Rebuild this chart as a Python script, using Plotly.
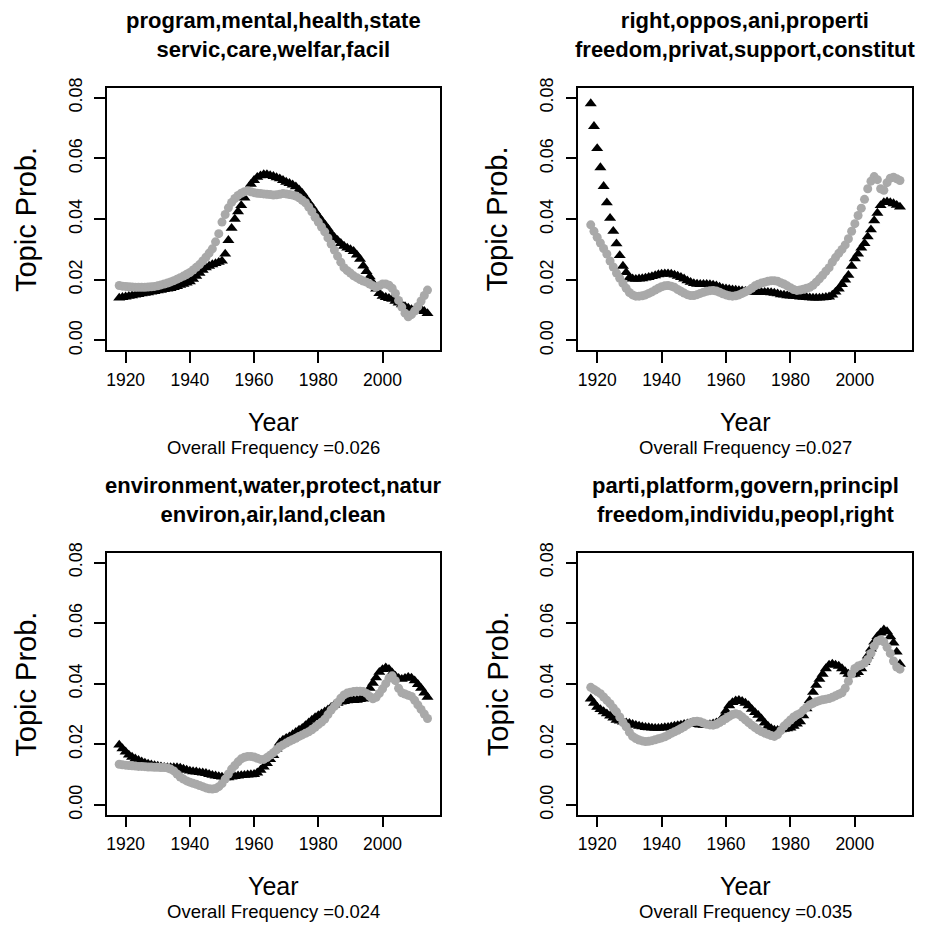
import plotly.graph_objects as go

years = list(range(1918, 2015))

titles = [
    "program,mental,health,state<br>servic,care,welfar,facil",
    "right,oppos,ani,properti<br>freedom,privat,support,constitut",
    "environment,water,protect,natur<br>environ,air,land,clean",
    "parti,platform,govern,principl<br>freedom,individu,peopl,right",
]
overall_freq = ["0.026", "0.027", "0.024", "0.035"]
x_ticks = [1920, 1940, 1960, 1980, 2000]
y_ticks = [0.00, 0.02, 0.04, 0.06, 0.08]

tri_1 = [0.0140, 0.0142, 0.0144, 0.0146, 0.0148, 0.0150, 0.0152, 0.0154, 0.0156, 0.0158,
         0.0160, 0.0162, 0.0164, 0.0166, 0.0168, 0.0170, 0.0172, 0.0175, 0.0178, 0.0182,
         0.0186, 0.0190, 0.0194, 0.0202, 0.0212, 0.0222, 0.0232, 0.0240, 0.0245, 0.0250,
         0.0254, 0.0258, 0.0262, 0.0285, 0.0330, 0.0370, 0.0400, 0.0425, 0.0445, 0.0470,
         0.0495, 0.0515, 0.0528, 0.0538, 0.0543, 0.0547, 0.0547, 0.0544, 0.0541, 0.0537,
         0.0533, 0.0528, 0.0522, 0.0518, 0.0513, 0.0507, 0.0497, 0.0485, 0.0470, 0.0455,
         0.0440, 0.0425, 0.0410, 0.0395, 0.0382, 0.0368, 0.0352, 0.0340, 0.0330, 0.0320,
         0.0311, 0.0305, 0.0300, 0.0294, 0.0282, 0.0268, 0.0246, 0.0228, 0.0210, 0.0190,
         0.0170, 0.0155, 0.0146, 0.0142, 0.0139, 0.0136, 0.0130, 0.0124, 0.0118, 0.0112,
         0.0107, 0.0102, 0.0100, 0.0104, 0.0103, 0.0096, 0.0089]
dot_1 = [0.0181, 0.0179, 0.0178, 0.0177, 0.0176, 0.0175, 0.0175, 0.0175, 0.0175, 0.0176,
         0.0177, 0.0178, 0.0180, 0.0183, 0.0186, 0.0189, 0.0193, 0.0197, 0.0202, 0.0207,
         0.0212, 0.0218, 0.0224, 0.0232, 0.0241, 0.0250, 0.0262, 0.0274, 0.0288, 0.0302,
         0.0325, 0.0352, 0.0390, 0.0415, 0.0437, 0.0455, 0.0468, 0.0478, 0.0485, 0.0490,
         0.0493, 0.0490, 0.0487, 0.0485, 0.0484, 0.0483, 0.0482, 0.0481, 0.0479, 0.0480,
         0.0482, 0.0484, 0.0483, 0.0481, 0.0479, 0.0476, 0.0470, 0.0462, 0.0454, 0.0440,
         0.0424, 0.0406, 0.0390, 0.0374, 0.0358, 0.0338, 0.0318, 0.0298, 0.0278, 0.0258,
         0.0240, 0.0230, 0.0222, 0.0213, 0.0207, 0.0201, 0.0196, 0.0192, 0.0186, 0.0180,
         0.0176, 0.0180, 0.0186, 0.0186, 0.0182, 0.0172, 0.0155, 0.0132, 0.0110, 0.0090,
         0.0078, 0.0085, 0.0097, 0.0112, 0.0130, 0.0148, 0.0166]

tri_2 = [0.0781, 0.0706, 0.0633, 0.0570, 0.0508, 0.0454, 0.0403, 0.0360, 0.0319, 0.0280,
         0.0245, 0.0224, 0.0207, 0.0203, 0.0202, 0.0203, 0.0204, 0.0206, 0.0208, 0.0211,
         0.0214, 0.0217, 0.0219, 0.0220, 0.0220, 0.0219, 0.0216, 0.0212, 0.0208, 0.0203,
         0.0197, 0.0192, 0.0188, 0.0186, 0.0185, 0.0185, 0.0185, 0.0184, 0.0183, 0.0180,
         0.0176, 0.0172, 0.0170, 0.0169, 0.0167, 0.0166, 0.0165, 0.0164, 0.0162, 0.0161,
         0.0160, 0.0159, 0.0159, 0.0159, 0.0159, 0.0159, 0.0158, 0.0156, 0.0154, 0.0151,
         0.0150, 0.0148, 0.0147, 0.0146, 0.0145, 0.0144, 0.0143, 0.0142, 0.0141, 0.0140,
         0.0140, 0.0140, 0.0141, 0.0142, 0.0144, 0.0150, 0.0160, 0.0170, 0.0185, 0.0200,
         0.0215, 0.0245, 0.0270, 0.0285, 0.0305, 0.0320, 0.0342, 0.0365, 0.0395, 0.0420,
         0.0445, 0.0455, 0.0457, 0.0455, 0.0451, 0.0446, 0.0440]
dot_2 = [0.0381, 0.0360, 0.0340, 0.0321, 0.0303, 0.0285, 0.0262, 0.0242, 0.0222, 0.0205,
         0.0188, 0.0172, 0.0158, 0.0150, 0.0146, 0.0146, 0.0147, 0.0150, 0.0155, 0.0160,
         0.0166, 0.0172, 0.0177, 0.0180, 0.0181, 0.0179, 0.0175, 0.0168, 0.0162, 0.0156,
         0.0151, 0.0148, 0.0148, 0.0151, 0.0155, 0.0159, 0.0162, 0.0164, 0.0165, 0.0163,
         0.0159, 0.0154, 0.0150, 0.0147, 0.0146, 0.0147, 0.0150, 0.0155, 0.0160, 0.0165,
         0.0172, 0.0180, 0.0185, 0.0189, 0.0192, 0.0195, 0.0197, 0.0197, 0.0195, 0.0190,
         0.0186, 0.0180, 0.0174, 0.0168, 0.0165, 0.0166, 0.0169, 0.0172, 0.0175, 0.0182,
         0.0192, 0.0203, 0.0215, 0.0228, 0.0240, 0.0258, 0.0273, 0.0287, 0.0300, 0.0315,
         0.0335, 0.0360, 0.0385, 0.0412, 0.0436, 0.0465, 0.0500, 0.0525, 0.0540, 0.0530,
         0.0500, 0.0495, 0.0520, 0.0535, 0.0538, 0.0533, 0.0527]

tri_3 = [0.0198, 0.0186, 0.0175, 0.0165, 0.0158, 0.0152, 0.0147, 0.0142, 0.0138, 0.0135,
         0.0132, 0.0130, 0.0128, 0.0126, 0.0124, 0.0123, 0.0123, 0.0123, 0.0123, 0.0122,
         0.0118, 0.0115, 0.0112, 0.0110, 0.0109, 0.0107, 0.0106, 0.0104, 0.0101, 0.0098,
         0.0096, 0.0094, 0.0092, 0.0090, 0.0090, 0.0092, 0.0094, 0.0096, 0.0097, 0.0098,
         0.0099, 0.0100, 0.0101, 0.0106, 0.0115, 0.0125, 0.0137, 0.0150, 0.0163, 0.0185,
         0.0205, 0.0214, 0.0220, 0.0225, 0.0232, 0.0240, 0.0247, 0.0253, 0.0262, 0.0271,
         0.0280, 0.0288, 0.0295, 0.0301, 0.0307, 0.0314, 0.0322, 0.0330, 0.0336, 0.0340,
         0.0342, 0.0344, 0.0345, 0.0345, 0.0346, 0.0348, 0.0350, 0.0365, 0.0385, 0.0402,
         0.0420, 0.0438, 0.0447, 0.0453, 0.0448, 0.0436, 0.0425, 0.0418, 0.0415, 0.0418,
         0.0421, 0.0419, 0.0410, 0.0398, 0.0385, 0.0370, 0.0356]
dot_3 = [0.0134, 0.0132, 0.0131, 0.0130, 0.0129, 0.0128, 0.0127, 0.0127, 0.0126, 0.0125,
         0.0125, 0.0124, 0.0124, 0.0123, 0.0123, 0.0122, 0.0118, 0.0112, 0.0102, 0.0092,
         0.0085, 0.0079, 0.0075, 0.0071, 0.0068, 0.0064, 0.0060, 0.0056, 0.0053, 0.0052,
         0.0054, 0.0060, 0.0070, 0.0085, 0.0102, 0.0118, 0.0130, 0.0142, 0.0152, 0.0157,
         0.0160, 0.0160, 0.0158, 0.0154, 0.0150, 0.0150, 0.0156, 0.0164, 0.0172, 0.0182,
         0.0192, 0.0198, 0.0204, 0.0210, 0.0215, 0.0220, 0.0226, 0.0231, 0.0236, 0.0241,
         0.0248, 0.0256, 0.0265, 0.0273, 0.0283, 0.0298, 0.0313, 0.0325, 0.0338, 0.0352,
         0.0363, 0.0369, 0.0372, 0.0374, 0.0375, 0.0375, 0.0374, 0.0368, 0.0358, 0.0350,
         0.0355, 0.0368, 0.0383, 0.0400, 0.0418, 0.0426, 0.0410, 0.0385, 0.0370, 0.0366,
         0.0362, 0.0358, 0.0345, 0.0330, 0.0315, 0.0300, 0.0285]

tri_4 = [0.0350, 0.0336, 0.0323, 0.0315, 0.0308, 0.0301, 0.0294, 0.0287, 0.0280, 0.0277,
         0.0274, 0.0271, 0.0269, 0.0266, 0.0263, 0.0260, 0.0258, 0.0256, 0.0255, 0.0254,
         0.0253, 0.0253, 0.0254, 0.0255, 0.0256, 0.0258, 0.0260, 0.0262, 0.0264, 0.0266,
         0.0268, 0.0269, 0.0268, 0.0266, 0.0264, 0.0263, 0.0263, 0.0265, 0.0268, 0.0271,
         0.0275, 0.0290, 0.0310, 0.0328, 0.0338, 0.0344, 0.0345, 0.0342, 0.0336, 0.0328,
         0.0316, 0.0305, 0.0296, 0.0284, 0.0271, 0.0260, 0.0252, 0.0247, 0.0246, 0.0248,
         0.0250, 0.0252, 0.0254, 0.0260, 0.0267, 0.0275, 0.0295, 0.0318, 0.0345, 0.0372,
         0.0395, 0.0415, 0.0432, 0.0450, 0.0462, 0.0465, 0.0462, 0.0458, 0.0450, 0.0440,
         0.0432, 0.0430, 0.0432, 0.0437, 0.0450, 0.0470, 0.0492, 0.0515, 0.0538, 0.0556,
         0.0568, 0.0578, 0.0572, 0.0555, 0.0535, 0.0505, 0.0465]
dot_4 = [0.0388, 0.0381, 0.0374, 0.0367, 0.0356, 0.0345, 0.0334, 0.0320, 0.0307, 0.0290,
         0.0272, 0.0258, 0.0240, 0.0226, 0.0219, 0.0214, 0.0211, 0.0209, 0.0210, 0.0212,
         0.0215, 0.0218, 0.0221, 0.0225, 0.0230, 0.0236, 0.0241, 0.0246, 0.0252, 0.0258,
         0.0265, 0.0271, 0.0275, 0.0276, 0.0274, 0.0270, 0.0266, 0.0264, 0.0263, 0.0266,
         0.0272, 0.0279, 0.0285, 0.0292, 0.0298, 0.0301, 0.0298, 0.0290, 0.0281, 0.0272,
         0.0263, 0.0255, 0.0248, 0.0242, 0.0237, 0.0233, 0.0229, 0.0226, 0.0232, 0.0245,
         0.0260, 0.0270, 0.0280, 0.0290, 0.0297, 0.0302, 0.0312, 0.0322, 0.0330, 0.0335,
         0.0340, 0.0344, 0.0347, 0.0349, 0.0351, 0.0355, 0.0360, 0.0365, 0.0370, 0.0385,
         0.0408, 0.0432, 0.0450, 0.0458, 0.0462, 0.0468, 0.0480, 0.0500, 0.0524, 0.0540,
         0.0545, 0.0538, 0.0520, 0.0500, 0.0475, 0.0455, 0.0448]

triangles = [tri_1, tri_2, tri_3, tri_4]
dots = [dot_1, dot_2, dot_3, dot_4]

W, H = 925, 933
# plot boxes in pixels: (left, right, top, bottom)
boxes = [(106, 439.3, 79.3, 345.7), (578, 912.3, 79.3, 345.7),
         (106, 439.3, 551.7, 817.7), (578, 912.3, 551.7, 817.7)]

FONT = "Liberation Sans, Arial, Helvetica, sans-serif"
GRAY = "#A9A9A9"

fig = go.Figure()
annotations = []
layout = dict(
    width=W, height=H, margin=dict(l=0, r=0, t=0, b=0),
    paper_bgcolor="white", plot_bgcolor="white", showlegend=False,
    font=dict(family=FONT, color="black"),
)

xmin, xmax = min(years), max(years)
xpad = (xmax - xmin) * 0.04
yr = (0.0, 0.08)
ypad = (yr[1] - yr[0]) * 0.04

for i in range(4):
    n = "" if i == 0 else str(i + 1)
    xa, ya = "x" + n, "y" + n
    L, R, T, B = boxes[i]
    fig.add_trace(go.Scatter(
        x=years, y=triangles[i], mode="markers", xaxis=xa, yaxis=ya,
        marker=dict(symbol="triangle-up", size=10.5, color="black", line=dict(width=0)),
        hoverinfo="skip"))
    fig.add_trace(go.Scatter(
        x=years, y=dots[i], mode="markers", xaxis=xa, yaxis=ya,
        marker=dict(symbol="circle", size=9, color=GRAY, line=dict(width=0)),
        hoverinfo="skip"))
    layout["xaxis" + n] = dict(
        domain=[L / W, R / W], anchor=ya, range=[xmin - xpad, xmax + xpad],
        showline=True, mirror=True, linecolor="black", linewidth=1.5,
        ticks="outside", ticklen=11, tickwidth=1.5, tickcolor="black",
        tickvals=x_ticks, ticktext=[str(v) for v in x_ticks],
        tickfont=dict(size=17.5, family=FONT, color="black"),
        ticklabelstandoff=2,
        showgrid=False, zeroline=False, fixedrange=True)
    layout["yaxis" + n] = dict(
        domain=[1 - B / H, 1 - T / H], anchor=xa, range=[yr[0] - ypad, yr[1] + ypad],
        showline=True, mirror=True, linecolor="black", linewidth=1.5,
        ticks="outside", ticklen=11, tickwidth=1.5, tickcolor="black",
        tickvals=y_ticks, ticktext=["%.2f" % v for v in y_ticks],
        tickangle=-90, tickfont=dict(size=18, family=FONT, color="black"),
        ticklabelstandoff=5,
        showgrid=False, zeroline=False, fixedrange=True)
    cx = (L + R) / 2
    cy = (T + B) / 2
    annotations.append(dict(
        text="<b>" + titles[i] + "</b>", x=cx / W, y=1 - (T - 54) / H,
        xref="paper", yref="paper", xanchor="center", yanchor="middle",
        showarrow=False, align="center",
        font=dict(size=22, family=FONT, color="black")))
    annotations.append(dict(
        text="Year", x=cx / W, y=1 - (B + 73) / H,
        xref="paper", yref="paper", xanchor="center", yanchor="middle",
        showarrow=False, font=dict(size=25, family=FONT, color="black")))
    annotations.append(dict(
        text="Overall Frequency =" + overall_freq[i], x=cx / W, y=1 - (B + 98.5) / H,
        xref="paper", yref="paper", xanchor="center", yanchor="middle",
        showarrow=False, font=dict(size=18.5, family=FONT, color="black")))
    annotations.append(dict(
        text="Topic Prob.", x=(L - 81) / W, y=1 - cy / H, textangle=-90,
        xref="paper", yref="paper", xanchor="center", yanchor="middle",
        showarrow=False, font=dict(size=29, family=FONT, color="black")))

layout["annotations"] = annotations
fig.update_layout(**layout)
fig.write_html("out.html")
